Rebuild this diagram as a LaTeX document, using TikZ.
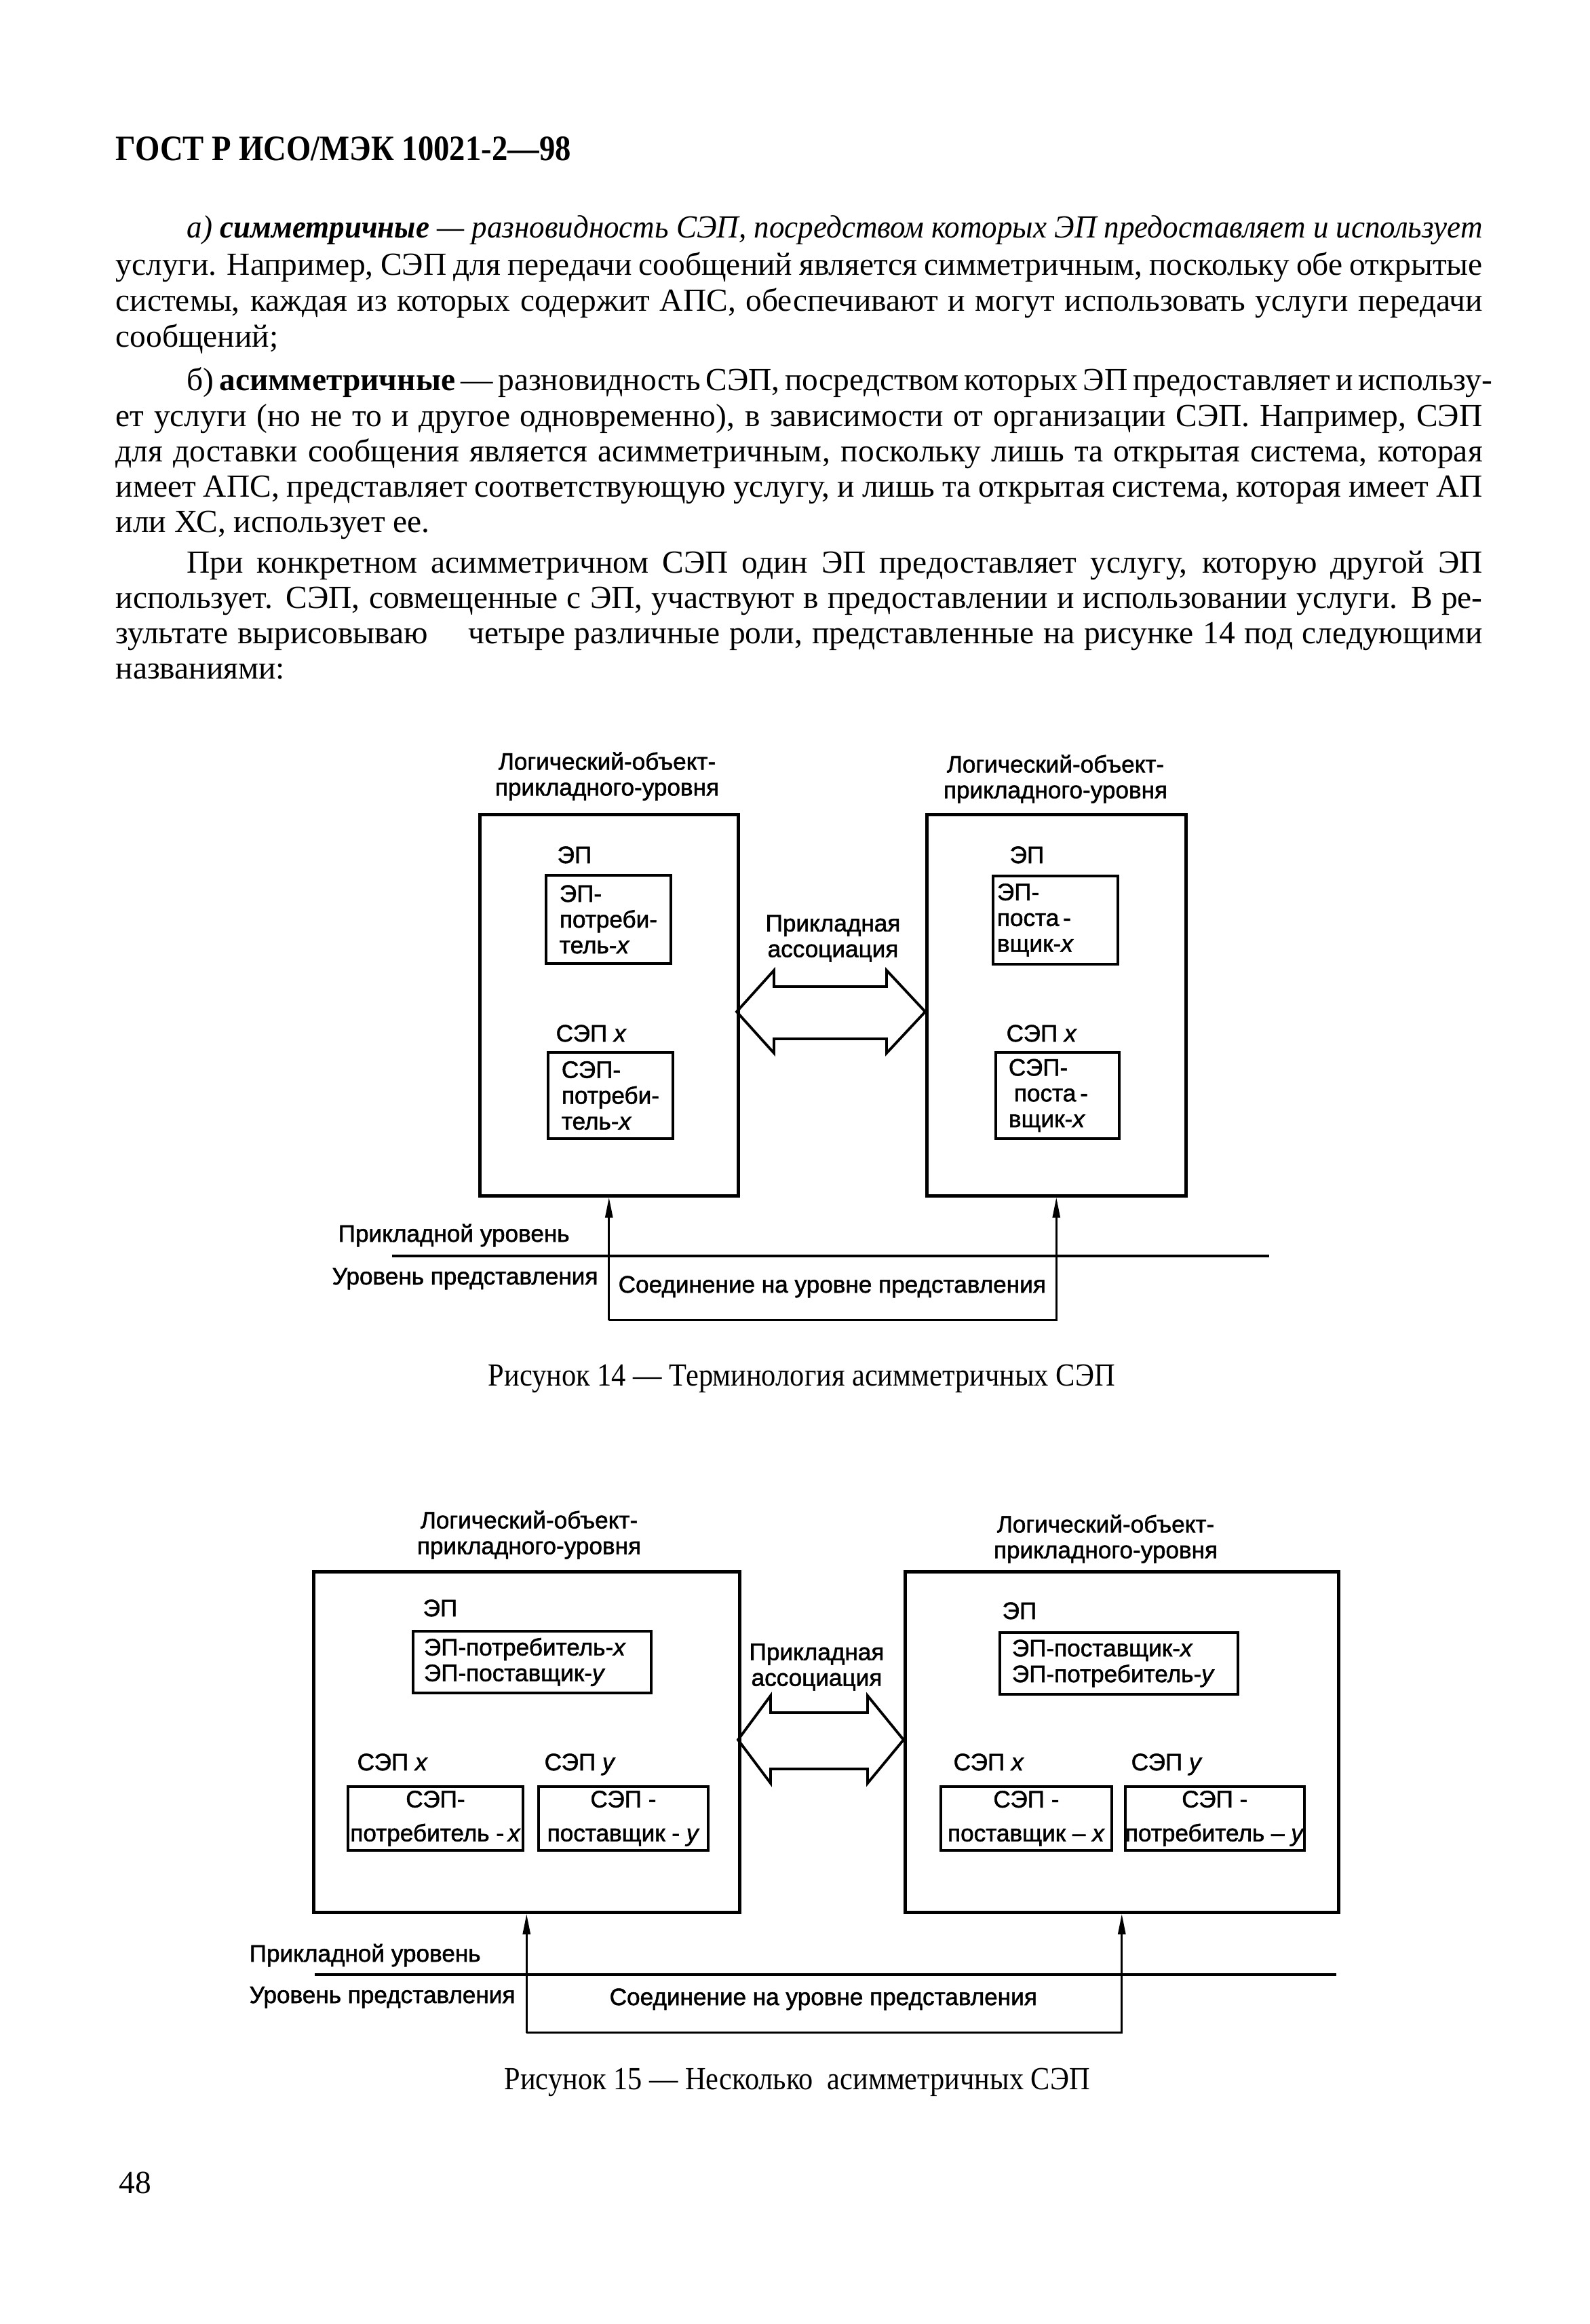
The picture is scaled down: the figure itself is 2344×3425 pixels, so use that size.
\documentclass[tikz,border=0pt]{standalone}
\usepackage{fontspec}
\usepackage{graphicx}
\setmainfont{Liberation Serif}
\newfontfamily\diagfont[FakeBold=1.5]{Liberation Sans}
\usetikzlibrary{arrows.meta,calc}
\newcommand{\jl}[1]{\makebox[201.5mm][s]{#1}}
\newcommand{\jf}[1]{\makebox[191mm][s]{#1}}
\newcommand{\hfit}[2]{\resizebox{#1}{\height}{#2}}
\begin{document}
\begin{tikzpicture}[x=0.1mm,y=-0.1mm,
  body/.style={anchor=base west,inner sep=0,font=\fontsize{13.5}{15}\selectfont},
  lbl/.style={inner sep=0,font=\diagfont\fontsize{10}{10.8}\selectfont,align=center},
  lblw/.style={lbl,anchor=base west},
  bigbox/.style={draw,line width=1.3pt,inner sep=0,anchor=north west},
  smallbox/.style={draw,line width=1.1pt,inner sep=0,anchor=north west,
     font=\diagfont\fontsize{10}{10.8}\selectfont,align=left},
  wideb/.style={draw,line width=1.1pt,inner sep=0,anchor=north west,
     font=\diagfont\fontsize{10}{10.8}\selectfont,align=center},
  conn/.style={line width=0.8pt},
  lev/.style={line width=1.1pt},
  upar/.style={conn,-{Triangle[length=3mm,width=1.1mm]}},
  dblarrow/.style={line width=1.1pt,line join=miter}
]
\useasboundingbox[fill=white] (0,0) rectangle (2344,3425);

% ---------- header ----------
\node[body,font=\bfseries\fontsize{15}{17}\selectfont] (hdr) at (170,236) {\hfit{67.1mm}{ГОСТ Р ИСО/МЭК 10021-2—98}};

% ---------- body text ----------
\node[body] (t1) at (275,350) {\hfit{191mm}{\itshape а) \textbf{симметричные} — разновидность СЭП, посредством которых ЭП предоставляет и использует}};
\node[body] (t2) at (170,405) {\jl{услуги. Например, СЭП для передачи сообщений является симметричным, поскольку обе открытые}};
\node[body] (t3) at (170,458) {\jl{системы, каждая из которых содержит АПС, обеспечивают и могут использовать услуги передачи}};
\node[body] (t4) at (170,511) {сообщений;};
\node[body] (t5) at (275,575) {\jf{б) \textbf{асимметричные} — разновидность СЭП, посредством которых ЭП предоставляет и использу-}};
\node[body] (t6) at (170,628) {\jl{ет услуги (но не то и другое одновременно), в зависимости от организации СЭП. Например, СЭП}};
\node[body] (t7) at (170,680) {\jl{для доставки сообщения является асимметричным, поскольку лишь та открытая система, которая}};
\node[body] (t8) at (170,732) {\jl{имеет АПС, представляет соответствующую услугу, и лишь та открытая система, которая имеет АП}};
\node[body] (t9) at (170,784) {или ХС, использует ее.};
\node[body] (t10) at (275,844) {\jf{При конкретном асимметричном СЭП один ЭП предоставляет услугу, которую другой ЭП}};
\node[body] (t11) at (170,896) {\jl{использует. СЭП, совмещенные с ЭП, участвуют в предоставлении и использовании услуги. В ре-}};
\node[body] (t12) at (170,948) {\jl{зультате вырисовываю\hspace{6mm}четыре различные роли, представленные на рисунке 14 под следующими}};
\node[body] (t13) at (170,1000) {названиями:};

% ================= Figure 14 =================
\node[lbl] (ttl14l) at (895,1144) {Логический-объект-\\прикладного-уровня};
\node[lbl] (ttl14r) at (1556,1148) {Логический-объект-\\прикладного-уровня};
\node[bigbox,minimum width=38.1mm,minimum height=56.2mm] (L14) at (705,1198) {};
\node[bigbox,minimum width=38.2mm,minimum height=56.2mm] (R14) at (1364,1198) {};

\node[lblw] (ep14l) at (821,1272) {ЭП};
\node[lblw] (ep14r) at (1488,1272) {ЭП};
\node[smallbox,minimum width=18.4mm,minimum height=13mm] (eu14) at (803,1288) {ЭП-\\потреби-\\тель-\textit{x}};
\node[smallbox,minimum width=18.4mm,minimum height=13mm,text width=17.2mm] (es14) at (1462,1289) {ЭП-\\поста\,-\\вщик-\textit{x}};

\node[lblw] (sep14l) at (819,1535) {СЭП \textit{x}};
\node[lblw] (sep14r) at (1483,1535) {СЭП \textit{x}};
\node[smallbox,minimum width=18.4mm,minimum height=12.7mm] (su14) at (806,1549) {СЭП-\\потреби-\\тель-\textit{x}};
\node[smallbox,minimum width=18.2mm,minimum height=12.7mm,text width=14.4mm] (ss14) at (1466,1549) {СЭП-\\\hspace*{0.8mm}поста\,-\\вщик-\textit{x}};

\node[lbl] (pa14) at (1228,1383) {Прикладная\\ассоциация};
\draw[dblarrow] (1086,1491) -- (1141,1430) -- (1141,1454) -- (1307,1454) -- (1307,1430)
   -- (1364,1491) -- (1307,1552) -- (1307,1531) -- (1141,1531) -- (1141,1552) -- cycle;

\coordinate (hl14a) at (578,1851);
\coordinate (hl14b) at (1871,1851);
\draw[lev] (hl14a) -- (hl14b);
\node[lblw] (al14) at (498,1830) {Прикладной уровень};
\node[lblw] (pl14) at (489,1893) {Уровень представления};
\node[lblw] (pc14) at (911,1905) {Соединение на уровне представления};
\path (L14.south) ++(0,181) coordinate (b14l);
\draw[upar] (b14l) -- (L14.south);
\draw[upar] (b14l) -| (R14.south);

\node[body] (cap14) at (719,2042) {\hfit{92.4mm}{Рисунок 14 — Терминология асимметричных СЭП}};

% ================= Figure 15 =================
\node[lbl] (ttl15l) at (780,2262) {Логический-объект-\\прикладного-уровня};
\node[lbl] (ttl15r) at (1630,2268) {Логический-объект-\\прикладного-уровня};
\node[bigbox,minimum width=62.8mm,minimum height=50.2mm] (L15) at (460,2314) {};
\node[bigbox,minimum width=63.9mm,minimum height=50.2mm] (R15) at (1332,2314) {};

\node[lblw] (ep15l) at (623,2382) {ЭП};
\node[lblw] (ep15r) at (1477,2386) {ЭП};
\node[smallbox,minimum width=35.1mm,minimum height=9.1mm,text width=31.9mm] (e15l) at (607,2402) {ЭП-потребитель-\textit{x}\\ЭП-поставщик-\textit{y}};
\node[smallbox,minimum width=35.1mm,minimum height=9.1mm,text width=31.5mm] (e15r) at (1472,2404) {ЭП-поставщик-\textit{x}\\ЭП-потребитель-\textit{y}};

\node[lbl] (pa15) at (1204,2457) {Прикладная\\ассоциация};
\draw[dblarrow] (1088,2564) -- (1136,2499) -- (1136,2524) -- (1279,2524) -- (1279,2499)
   -- (1332,2564) -- (1279,2628) -- (1279,2607) -- (1136,2607) -- (1136,2628) -- cycle;

\node[lblw] (sx15l) at (526,2609) {СЭП \textit{x}};
\node[lblw] (sy15l) at (802,2609) {СЭП \textit{y}};
\node[lblw] (sx15r) at (1405,2609) {СЭП \textit{x}};
\node[lblw] (sy15r) at (1667,2609) {СЭП \textit{y}};
\node[wideb,minimum width=25.8mm,minimum height=9.4mm] (b15a) at (511,2631) {СЭП-\\[1.2mm]потребитель -\,\textit{x}};
\node[wideb,minimum width=25.0mm,minimum height=9.4mm] (b15b) at (792,2631) {СЭП -\\[1.2mm]поставщик - \textit{y}};
\node[wideb,minimum width=25.2mm,minimum height=9.4mm] (b15c) at (1385,2631) {СЭП -\\[1.2mm]поставщик – \textit{x}};
\node[wideb,minimum width=26.2mm,minimum height=9.4mm] (b15d) at (1657,2631) {СЭП -\\[1.2mm]потребитель – \textit{y}};

\coordinate (hl15a) at (464,2910);
\coordinate (hl15b) at (1970,2910);
\draw[lev] (hl15a) -- (hl15b);
\node[lblw] (al15) at (367,2891) {Прикладной уровень};
\node[lblw] (pl15) at (367,2952) {Уровень представления};
\node[lblw] (pc15) at (898,2955) {Соединение на уровне представления};
\path (L15.south) ++(0,175) coordinate (b15l);
\draw[upar] (b15l) -- (L15.south);
\draw[upar] (b15l) -| (R15.south);

\node[body] (cap15) at (743,3079) {\hfit{86.3mm}{Рисунок 15 — Несколько\ \ асимметричных СЭП}};
\node[body] (pg) at (175,3232) {48};
\end{tikzpicture}
\end{document}
